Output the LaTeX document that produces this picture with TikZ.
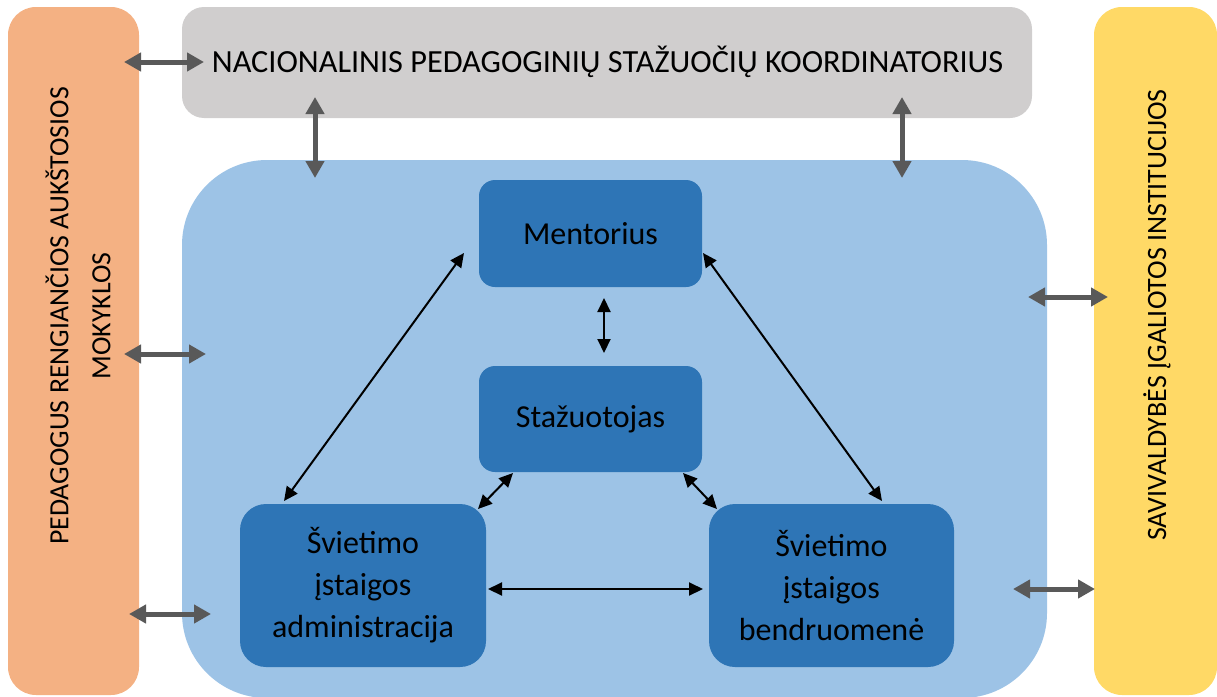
\documentclass[tikz,border=0pt]{standalone}
\usepackage{fontspec}
\setmainfont{Carlito}
\usetikzlibrary{arrows.meta}
\definecolor{corange}{HTML}{F4B183}
\definecolor{cgray}{HTML}{D0CECE}
\definecolor{cyellow}{HTML}{FFD966}
\definecolor{clight}{HTML}{9DC3E6}
\definecolor{cdark}{HTML}{2E75B6}
\definecolor{carrow}{HTML}{595959}
\begin{document}
\begin{tikzpicture}[x=1pt,y=-1pt,
  panel/.style={fill=#1, draw=none, inner sep=0pt},
  inner/.style={fill=cdark, draw=none, inner sep=0pt, align=center,
    font=\fontsize{32}{42}\selectfont, text=black},
  garrow/.style={draw=carrow, line width=5pt,
    {Triangle[length=17pt,width=18pt]}-{Triangle[length=17pt,width=18pt]}},
  barrow/.style={draw=black, line width=2pt,
    {Triangle[length=14pt,width=13pt]}-{Triangle[length=14pt,width=13pt]}},
  ]
\useasboundingbox (0,0) rectangle (1217,696);
% panels
\node[panel=corange, minimum width=131pt, minimum height=688pt, rounded corners=28pt] (peda) at (73.5,351) {};
\node[panel=cyellow, minimum width=123pt, minimum height=688pt, rounded corners=28pt] (savi) at (1155.5,351) {};
\node[panel=cgray, minimum width=850pt, minimum height=111pt, rounded corners=22pt] (koord) at (607,62.5) {};
\node[panel=clight, minimum width=865pt, minimum height=538pt, rounded corners=85pt] (blue) at (614.5,429) {};
% texts of panels
\node[font=\fontsize{32.3}{38}\selectfont, inner sep=0pt] (koordt) at (607.5,62) {NACIONALINIS PEDAGOGINIŲ STAŽUOČIŲ KOORDINATORIUS};
\node[font=\fontsize{27.8}{42}\selectfont, rotate=90, align=center, inner sep=0pt] (pedat) at (78,316) {PEDAGOGUS RENGIANČIOS AUKŠTOSIOS\\MOKYKLOS};
\node[font=\fontsize{28}{42}\selectfont, rotate=90, inner sep=0pt] (savit) at (1157,315) {SAVIVALDYBĖS ĮGALIOTOS INSTITUCIJOS};
% inner boxes
\node[inner, minimum width=223pt, minimum height=107pt, rounded corners=16pt] (men) at (590.5,233.5) {Mentorius};
\node[inner, minimum width=223pt, minimum height=106pt, rounded corners=16pt] (staz) at (590.5,419) {Stažuotojas};
\node[inner, minimum width=246pt, minimum height=163pt, rounded corners=26pt] (adm) at (363,585.5) {Švietimo\\įstaigos\\administracija};
\node[inner, minimum width=245pt, minimum height=163pt, rounded corners=26pt] (ben) at (831.5,585.5) {Švietimo\\įstaigos\\bendruomenė};
% gray arrow ends
\coordinate (g1a) at (124,62);   \coordinate (g1b) at (204,62);
\coordinate (g2a) at (315,97);   \coordinate (g2b) at (315,178);
\coordinate (g3a) at (902,97);   \coordinate (g3b) at (902,178);
\coordinate (g4a) at (124,354);  \coordinate (g4b) at (206,354);
\coordinate (g5a) at (129,614);  \coordinate (g5b) at (211,614);
\coordinate (g6a) at (1028,297); \coordinate (g6b) at (1108,297);
\coordinate (g7a) at (1013,589); \coordinate (g7b) at (1095,589);
\draw[garrow] (g1a) -- (g1b);
\draw[garrow] (g2a) -- (g2b);
\draw[garrow] (g3a) -- (g3b);
\draw[garrow] (g4a) -- (g4b);
\draw[garrow] (g5a) -- (g5b);
\draw[garrow] (g6a) -- (g6b);
\draw[garrow] (g7a) -- (g7b);
% black arrow ends
\coordinate (b1a) at (464,253); \coordinate (b1b) at (284,501);
\coordinate (b2a) at (703,253); \coordinate (b2b) at (882,501);
\coordinate (b3a) at (604,298); \coordinate (b3b) at (604,353);
\coordinate (b4a) at (513,473); \coordinate (b4b) at (478,509);
\coordinate (b5a) at (683,473); \coordinate (b5b) at (717,509);
\coordinate (b6a) at (488,589); \coordinate (b6b) at (703,589);
\draw[barrow] (b1a) -- (b1b);
\draw[barrow] (b2a) -- (b2b);
\draw[barrow] (b3a) -- (b3b);
\draw[barrow] (b4a) -- (b4b);
\draw[barrow] (b5a) -- (b5b);
\draw[barrow] (b6a) -- (b6b);
\end{tikzpicture}
\end{document}
